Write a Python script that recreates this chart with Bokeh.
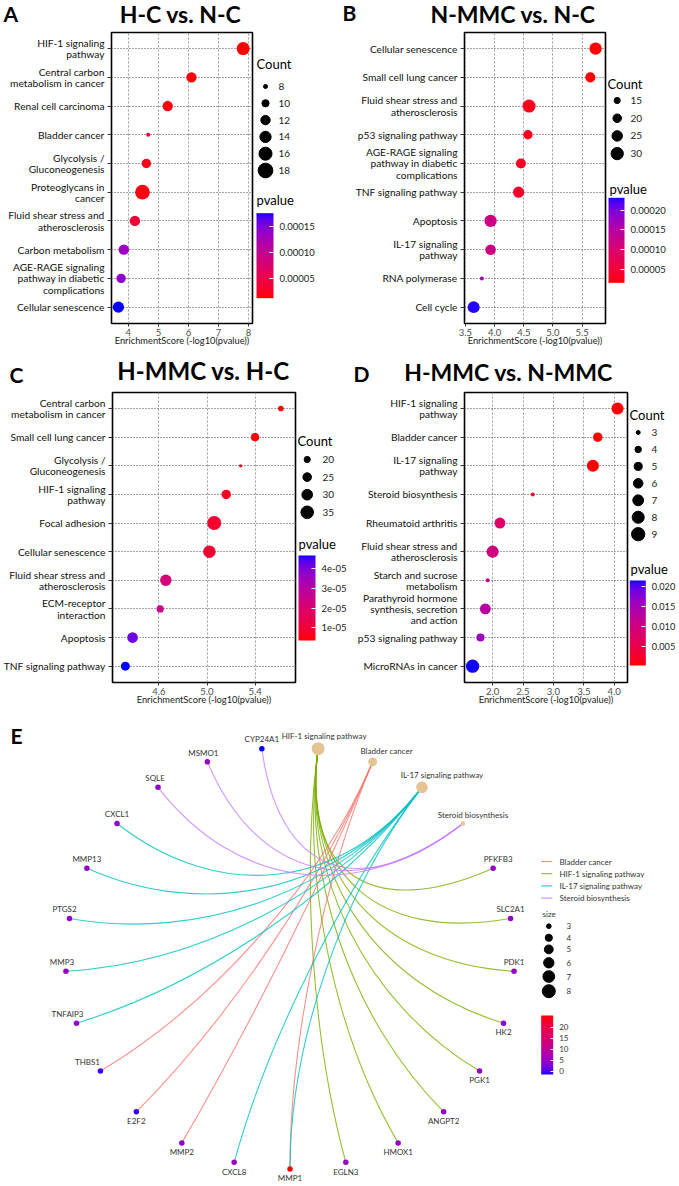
import numpy as np
from bokeh.plotting import figure
from bokeh.layouts import row, column
from bokeh.models import (Range1d, FixedTicker, ColorBar, LinearColorMapper, ColumnDataSource, AllLabels)
from bokeh.transform import transform
from bokeh.core.properties import value
from bokeh.embed import file_html
from bokeh.resources import INLINE

FONT = "Lato"

# ---------------- data ----------------
A_terms = ["HIF-1 signaling\npathway", "Central carbon\nmetabolism in cancer", "Renal cell carcinoma",
           "Bladder cancer", "Glycolysis /\nGluconeogenesis", "Proteoglycans in\ncancer",
           "Fluid shear stress and\natherosclerosis", "Carbon metabolism",
           "AGE-RAGE signaling\npathway in diabetic\ncomplications", "Cellular senescence"]
A_score = [7.82, 6.10, 5.31, 4.66, 4.60, 4.47, 4.22, 3.85, 3.76, 3.67]
A_count = [16, 13, 13, 8, 12, 18, 13, 13, 12, 14]
A_pvalue = [1.3e-5, 1.4e-5, 1.6e-5, 3.2e-5, 2.0e-5, 1.8e-5, 3.6e-5, 1.32e-4, 1.42e-4, 1.75e-4]
A_xticks = [4, 5, 6, 7, 8]
A_xlabels = ["4", "5", "6", "7", "8"]
A_count_breaks = [8, 10, 12, 14, 16, 18]
A_p_ticks = [5e-5, 1e-4, 1.5e-4]
A_p_labels = ["0.00005", "0.00010", "0.00015"]

B_terms = ["Cellular senescence", "Small cell lung cancer", "Fluid shear stress and\natherosclerosis",
           "p53 signaling pathway", "AGE-RAGE signaling\npathway in diabetic\ncomplications",
           "TNF signaling pathway", "Apoptosis", "IL-17 signaling\npathway", "RNA polymerase", "Cell cycle"]
B_score = [5.73, 5.64, 4.59, 4.57, 4.45, 4.41, 3.93, 3.93, 3.78, 3.64]
B_count = [30, 24, 32, 22, 24, 27, 30, 25, 12, 29]
B_pvalue = [1.9e-6, 2.3e-6, 2.6e-5, 2.7e-5, 3.5e-5, 3.9e-5, 1.17e-4, 1.17e-4, 1.66e-4, 2.29e-4]
B_xticks = [3.5, 4.0, 4.5, 5.0, 5.5]
B_xlabels = ["3.5", "4.0", "4.5", "5.0", "5.5"]
B_count_breaks = [15, 20, 25, 30]
B_p_ticks = [5e-5, 1e-4, 1.5e-4, 2e-4]
B_p_labels = ["0.00005", "0.00010", "0.00015", "0.00020"]

C_terms = ["Central carbon\nmetabolism in cancer", "Small cell lung cancer", "Glycolysis /\nGluconeogenesis",
           "HIF-1 signaling\npathway", "Focal adhesion", "Cellular senescence",
           "Fluid shear stress and\natherosclerosis", "ECM-receptor\ninteraction", "Apoptosis",
           "TNF signaling pathway"]
C_score = [5.615, 5.40, 5.28, 5.16, 5.06, 5.02, 4.657, 4.61, 4.38, 4.32]
C_count = [19, 24, 16, 27, 39, 35, 32, 22, 30, 26]
C_pvalue = [2.4e-6, 4.0e-6, 5.2e-6, 6.9e-6, 8.7e-6, 9.5e-6, 2.2e-5, 2.45e-5, 4.17e-5, 4.79e-5]
C_xticks = [4.6, 5.0, 5.4]
C_xlabels = ["4.6", "5.0", "5.4"]
C_count_breaks = [20, 25, 30, 35]
C_p_ticks = [1e-5, 2e-5, 3e-5, 4e-5]
C_p_labels = ["1e-05", "2e-05", "3e-05", "4e-05"]

D_terms = ["HIF-1 signaling\npathway", "Bladder cancer", "IL-17 signaling\npathway", "Steroid biosynthesis",
           "Rheumatoid arthritis", "Fluid shear stress and\natherosclerosis", "Starch and sucrose\nmetabolism",
           "Parathyroid hormone\nsynthesis, secretion\nand action", "p53 signaling pathway",
           "MicroRNAs in cancer"]
D_score = [4.056, 3.73, 3.65, 2.66, 2.12, 2.00, 1.92, 1.88, 1.80, 1.67]
D_count = [8, 6, 8, 3, 7, 8, 3, 7, 5, 9]
D_pvalue = [8.8e-5, 1.9e-4, 2.2e-4, 2.2e-3, 7.6e-3, 1.0e-2, 1.2e-2, 1.32e-2, 1.58e-2, 2.14e-2]
D_xticks = [2.0, 2.5, 3.0, 3.5, 4.0]
D_xlabels = ["2.0", "2.5", "3.0", "3.5", "4.0"]
D_count_breaks = [3, 4, 5, 6, 7, 8, 9]
D_p_ticks = [0.005, 0.010, 0.015, 0.020]
D_p_labels = ["0.005", "0.010", "0.015", "0.020"]

E_categories = ["HIF-1 signaling pathway", "Bladder cancer", "IL-17 signaling pathway", "Steroid biosynthesis"]
E_cat_size = [8, 5, 7, 3]
E_genes = ["PFKFB3", "SLC2A1", "PDK1", "HK2", "PGK1", "ANGPT2", "HMOX1", "EGLN3", "MMP1", "CXCL8",
           "MMP2", "E2F2", "THBS1", "TNFAIP3", "MMP3", "PTGS2", "MMP13", "CXCL1", "SQLE", "MSMO1", "CYP24A1"]
E_gene_fc = [4.6, 4.4, 4.8, 4.2, 4.5, 4.3, 4.7, 4.4, 25.3, 4.9, 4.1, -0.8, -0.6, 4.5, 4.8, 4.6, 4.3, 4.4,
             4.2, 4.5, -1.5]
E_links = {
    "HIF-1 signaling pathway": ["PFKFB3", "SLC2A1", "PDK1", "HK2", "PGK1", "ANGPT2", "HMOX1", "EGLN3"],
    "Bladder cancer": ["MMP1", "MMP2", "E2F2", "THBS1"],
    "IL-17 signaling pathway": ["MMP1", "CXCL8", "TNFAIP3", "MMP3", "PTGS2", "MMP13", "CXCL1"],
    "Steroid biosynthesis": ["SQLE", "MSMO1", "CYP24A1"],
}
E_legend_order = ["Bladder cancer", "HIF-1 signaling pathway", "IL-17 signaling pathway", "Steroid biosynthesis"]
E_size_breaks = [3, 4, 5, 6, 7, 8]
E_fc_ticks = [0, 5, 10, 15, 20]

# ---------------- colour helpers (CIELAB gradient like ggplot) ----------------
_M = np.array([[0.4124564, 0.3575761, 0.1804375], [0.2126729, 0.7151522, 0.0721750],
               [0.0193339, 0.1191920, 0.9503041]])
_W = np.array([0.95047, 1.0, 1.08883])


def _lab(h):
    c = np.array([int(h[i:i + 2], 16) for i in (1, 3, 5)]) / 255.0
    c = np.where(c <= 0.04045, c / 12.92, ((c + 0.055) / 1.055) ** 2.4)
    xyz = _M @ c / _W
    f = np.where(xyz > (6 / 29) ** 3, np.cbrt(xyz), xyz / (3 * (6 / 29) ** 2) + 4 / 29)
    return np.array([116 * f[1] - 16, 500 * (f[0] - f[1]), 200 * (f[1] - f[2])])


def _hex(lab):
    L, a, b = lab
    fy = (L + 16) / 116
    f = np.array([fy + a / 500, fy, fy - b / 200])
    xyz = np.where(f > 6 / 29, f ** 3, 3 * (6 / 29) ** 2 * (f - 4 / 29)) * _W
    lin = np.clip(np.linalg.inv(_M) @ xyz, 0, 1)
    c = np.where(lin <= 0.0031308, 12.92 * lin, 1.055 * lin ** (1 / 2.4) - 0.055)
    return "#%02x%02x%02x" % tuple(int(round(v * 255)) for v in np.clip(c, 0, 1))


def gradient(h0, h1, n=256):
    a, b = _lab(h0), _lab(h1)
    return [_hex(a + (b - a) * t) for t in np.linspace(0, 1, n)]


PV_PAL = gradient("#FF0000", "#0000FF")
FC_PAL = gradient("#0000FF", "#FF0000")


def size_scale(lo, hi, dlo, dhi):
    def f(c):
        r = (c - lo) / (hi - lo)
        return float(dlo + (dhi - dlo) * np.sign(r) * abs(r) ** 0.75)
    return f


def bare_fig(x0, x1, top, height, mbt=0, mbb=0):
    """figure whose data coordinates are page pixels (y grows downwards)"""
    p = figure(width=x1 - x0, height=height, x_range=Range1d(x0, x1),
               y_range=Range1d(top + height - mbb, top + mbt),
               x_axis_location=None, y_axis_location=None, min_border_left=0, min_border_right=0,
               min_border_top=mbt, min_border_bottom=mbb, output_backend="svg", toolbar_location=None)
    p.grid.visible = False
    p.outline_line_color = None
    return p


# ---------------- panels ----------------
def header(top, height, titles, title_x, title_y, title_sizes, letters, letter_x, letter_y):
    p = bare_fig(0, 679, top, height)
    for t, x, y, s in zip(titles, title_x, title_y, title_sizes):
        p.text(x=[x], y=[y], text=[t], text_font=value(FONT), text_font_size=s, text_font_style="bold",
               text_align="center", text_baseline="middle", text_color="black")
    p.text(x=letter_x, y=letter_y, text=letters, text_font=value(FONT), text_font_size="21px",
           text_font_style="bold", text_align="left", text_baseline="middle", text_color="black")
    return p


def dot_panel(terms, score, count, pval, mapper, size_fn, xr, xticks, xlabels, width, height, mbl, mbt, mbb):
    n = len(terms)
    ypos = list(range(n, 0, -1))
    p = figure(width=width, height=height, x_range=Range1d(*xr), y_range=Range1d(0.43, n + 0.56),
               output_backend="svg", toolbar_location=None,
               min_border_left=mbl, min_border_right=2, min_border_top=mbt, min_border_bottom=mbb)
    src = ColumnDataSource(dict(x=score, y=ypos, s=[size_fn(c) for c in count], p=pval))
    p.scatter("x", "y", size="s", source=src, fill_color=transform("p", mapper), line_color=None)

    p.xaxis.ticker = FixedTicker(ticks=xticks)
    p.xaxis.major_label_overrides = {t: l for t, l in zip(xticks, xlabels)}
    p.yaxis.ticker = FixedTicker(ticks=ypos)
    p.yaxis.major_label_overrides = {y: t for y, t in zip(ypos, terms)}

    p.axis.axis_line_color = None
    p.axis.minor_tick_line_color = None
    p.axis.major_tick_line_color = "#333333"
    p.axis.major_tick_in = 0
    p.axis.minor_tick_out = 0
    p.xaxis.major_tick_out = 3
    p.yaxis.major_tick_out = 4
    p.yaxis.major_label_standoff = 3
    p.xaxis.major_label_standoff = 2
    p.yaxis.major_label_text_font = FONT
    p.yaxis.major_label_text_font_size = "10.2px"
    p.yaxis.major_label_text_color = "#111111"
    p.yaxis.major_label_text_line_height = 0.93
    p.xaxis.major_label_text_font = FONT
    p.xaxis.major_label_text_font_size = "9.5px"
    p.xaxis.major_label_text_color = "#4d4d4d"
    p.xaxis.axis_label = "EnrichmentScore (-log10(pvalue))"
    p.xaxis.axis_label_text_font = FONT
    p.xaxis.axis_label_text_font_size = "9.3px"
    p.xaxis.axis_label_text_font_style = "normal"
    p.xaxis.axis_label_text_color = "#1a1a1a"
    p.xaxis.axis_label_standoff = -4

    p.outline_line_color = "black"
    p.outline_line_width = 1.6
    p.xgrid.grid_line_color = "#9a9a9a"
    p.xgrid.grid_line_dash = "2 2"
    p.ygrid.grid_line_color = "#444444"
    p.ygrid.grid_line_dash = "1 2"
    return p


def legend_panel(x0, x1, top, height, mbt, mbb, mapper, size_fn, breaks, cnt_title, dot_x, lab_x, cy0,
                 cdy, pv_title, cb_left, cb_top, cb_w, cb_h, ticks, labels, lab_size):
    p = bare_fig(x0, x1, top, height, mbt, mbb)
    f_bot = top + height - mbb
    ys = [cy0 + i * cdy for i in range(len(breaks))]
    p.text(x=[cnt_title[0]], y=[cnt_title[1]], text=["Count"], text_font=value(FONT),
           text_font_size="13px", text_baseline="middle", text_align="left", text_color="black")
    p.scatter(x=[dot_x] * len(breaks), y=ys, size=[size_fn(b) for b in breaks], color="black")
    p.text(x=[lab_x] * len(breaks), y=ys, text=[str(b) for b in breaks], text_font=value(FONT),
           text_font_size="10px", text_baseline="middle", text_align="left", text_color="#222222")
    p.text(x=[pv_title[0]], y=[pv_title[1]], text=["pvalue"], text_font=value(FONT),
           text_font_size="13px", text_baseline="middle", text_align="left", text_color="black")
    cb = ColorBar(color_mapper=mapper, location=(cb_left - x0, f_bot - (cb_top + cb_h)),
                  width=int(round(cb_w)), height=int(round(cb_h)), ticker=FixedTicker(ticks=ticks),
                  major_label_overrides={t: l for t, l in zip(ticks, labels)},
                  major_label_policy=AllLabels(),
                  padding=0, margin=0, label_standoff=6, major_label_text_font=FONT,
                  major_label_text_font_size=lab_size, major_label_text_color="#222222",
                  major_tick_line_color="white", major_tick_in=4, major_tick_out=0,
                  bar_line_color=None, border_line_color=None, background_fill_color=None)
    p.add_layout(cb)
    return p


mapA = LinearColorMapper(palette=PV_PAL, low=1.2e-5, high=1.75e-4)
mapB = LinearColorMapper(palette=PV_PAL, low=1.52e-5, high=2.32e-4)
mapC = LinearColorMapper(palette=PV_PAL, low=3.6e-6, high=4.68e-5)
mapD = LinearColorMapper(palette=PV_PAL, low=1.0e-4, high=2.15e-2)
sA = size_scale(8, 18, 4.0, 14.7)
sB = size_scale(12, 32, 4.0, 13.0)
sC = size_scale(16, 39, 3.3, 14.0)
sD = size_scale(3, 9, 4.0, 13.3)

# page layout: header strip, then the two dot-plot rows, then the network
HD1_T, HD1_H = 0, 31
T1, H1, MBT1, MBB1 = 31, 324, 1, 32
HD2_T, HD2_H = 355, 35
T2, H2, MBT2, MBB2 = 390, 322, 2, 30

hd1 = header(HD1_T, HD1_H, ["H-C vs. N-C", "N-MMC vs. N-C"], [180, 512.5], [13.8, 13.8], ["23px", "23px"],
             ["A", "B"], [3, 342], [12.8, 12.2])
pA = dot_panel(A_terms, A_score, A_count, A_pvalue, mapA, sA, (3.44, 8.13), A_xticks, A_xlabels,
               254, H1, 111, MBT1, MBB1)
lA = legend_panel(254, 340, T1, H1, MBT1, MBB1, mapA, sA, A_count_breaks, (256, 63), 265, 278, 86, 16.8,
                  (256, 199), 256, 212.7, 17, 85, A_p_ticks, A_p_labels, "9.5px")
pB = dot_panel(B_terms, B_score, B_count, B_pvalue, mapB, sB, (3.483, 5.9), B_xticks, B_xlabels,
               267, H1, 124, MBT1, MBB1)
lB = legend_panel(607, 679, T1, H1, MBT1, MBB1, mapB, sB, B_count_breaks, (607, 83), 616.7, 630, 100, 17.7,
                  (609, 188), 608, 197.3, 16, 85, B_p_ticks, B_p_labels, "9.5px")

hd2 = header(HD2_T, HD2_H, ["H-MMC vs. H-C", "H-MMC vs. N-MMC"], [203, 508], [370, 371], ["24px", "23px"],
             ["C", "D"], [9, 353], [374, 372.5])
pC = dot_panel(C_terms, C_score, C_count, C_pvalue, mapC, sC, (4.213, 5.737), C_xticks, C_xlabels,
               297, H2, 111, MBT2, MBB2)
lC = legend_panel(297, 352, T2, H2, MBT2, MBB2, mapC, sC, C_count_breaks, (297, 440), 306.7, 322, 459, 17.6,
                  (298, 543), 298, 555, 17, 85, C_p_ticks, C_p_labels, "9.5px")
pD = dot_panel(D_terms, D_score, D_count, D_pvalue, mapD, sD, (1.537, 4.22), D_xticks, D_xlabels,
               277, H2, 112, MBT2, MBB2)
lD = legend_panel(629, 679, T2, H2, MBT2, MBB2, mapD, sD, D_count_breaks, (629, 414), 637.7, 651, 432, 16.95,
                  (630, 568.7), 629.3, 580, 16, 85, D_p_ticks, D_p_labels, "9.2px")

# ---------------- panel E: gene-concept network ----------------
EX0, EX1, EY0, EY1 = 0, 679, 712, 1186
CX, CY, RX, RY = 289.5, 957.5, 224.5, 211.0
STRENGTH = 0.6
HUES = {"Bladder cancer": "#F8766D", "HIF-1 signaling pathway": "#7CAE00",
        "IL-17 signaling pathway": "#00BFC4", "Steroid biosynthesis": "#C77CFF"}
LABEL_NUDGE = {"HIF-1 signaling pathway": 6, "Bladder cancer": 14, "IL-17 signaling pathway": 20,
               "Steroid biosynthesis": 10, "THBS1": -13, "TNFAIP3": -9, "PFKFB3": 5, "MMP3": -4, "PTGS2": -5,
               "MSMO1": -4, "SQLE": -3}

pE = bare_fig(EX0, EX1, EY0, EY1 - EY0)

nodes = E_categories + E_genes
N = len(nodes)
theta = np.deg2rad(180.0 / N + 360.0 / N * np.arange(N))
nx = CX + RX * np.sin(theta)
ny = CY - RY * np.cos(theta)
pos = {nm: (nx[i], ny[i], np.rad2deg(theta[i])) for i, nm in enumerate(nodes)}

ed = dict(x0=[], y0=[], x1=[], y1=[], cx0=[], cy0=[], cx1=[], cy1=[], col=[])
for cat in E_categories:
    for g in E_links[cat]:
        ax_, ay_, _ = pos[cat]
        bx_, by_, _ = pos[g]
        ed["x0"].append(ax_); ed["y0"].append(ay_)
        ed["x1"].append(bx_); ed["y1"].append(by_)
        ed["cx0"].append(ax_ + STRENGTH * (CX - ax_)); ed["cy0"].append(ay_ + STRENGTH * (CY - ay_))
        ed["cx1"].append(bx_ + STRENGTH * (CX - bx_)); ed["cy1"].append(by_ + STRENGTH * (CY - by_))
        ed["col"].append(HUES[cat])
pE.bezier(x0="x0", y0="y0", x1="x1", y1="y1", cx0="cx0", cy0="cy0", cx1="cx1", cy1="cy1",
          line_color="col", line_alpha=0.8, line_width=1.1, source=ColumnDataSource(ed))

size_net = size_scale(3, 8, 4.7, 13.0)
cat_src = ColumnDataSource(dict(x=[pos[c][0] for c in E_categories], y=[pos[c][1] for c in E_categories],
                                s=[size_net(v) for v in E_cat_size]))
pE.scatter("x", "y", size="s", source=cat_src, fill_color="#E5C494", line_color=None)
mapE = LinearColorMapper(palette=FC_PAL, low=-1.5, high=25.3)
gene_src = ColumnDataSource(dict(x=[pos[g][0] for g in E_genes], y=[pos[g][1] for g in E_genes],
                                 fc=E_gene_fc))
pE.scatter("x", "y", size=5.5, source=gene_src, fill_color=transform("fc", mapE), line_color=None)

# node labels
lab_up = dict(x=[], y=[], t=[])
lab_dn = dict(x=[], y=[], t=[])
for i, nm in enumerate(nodes):
    x_, y_, ang = pos[nm]
    x_ = x_ + LABEL_NUDGE.get(nm, 0)
    r = (size_net(E_cat_size[i]) if i < len(E_categories) else 5.5) / 2
    if 100 < ang < 230:
        lab_dn["x"].append(x_); lab_dn["y"].append(y_ + r + 1.5); lab_dn["t"].append(nm)
    else:
        lab_up["x"].append(x_); lab_up["y"].append(y_ - r - 1.5); lab_up["t"].append(nm)
pE.text("x", "y", text="t", source=ColumnDataSource(lab_up), text_font=value(FONT), text_font_size="8px",
        text_align="center", text_baseline="bottom", text_color="#333333")
pE.text("x", "y", text="t", source=ColumnDataSource(lab_dn), text_font=value(FONT), text_font_size="8px",
        text_align="center", text_baseline="top", text_color="#333333")

pE.text(x=[10], y=[735], text=["E"], text_font=value(FONT), text_font_size="21px", text_font_style="bold",
        text_baseline="middle", text_color="black")

# edge legend
leg_y = [861 + i * 12.2 for i in range(len(E_legend_order))]
pE.segment(x0=[540.7] * 4, x1=[551.7] * 4, y0=leg_y, y1=leg_y, line_color=[HUES[c] for c in E_legend_order],
           line_alpha=0.8, line_width=1.2)
pE.text(x=[559] * 4, y=leg_y, text=E_legend_order, text_font=value(FONT), text_font_size="8px",
        text_baseline="middle", text_color="#333333")
# size legend
pE.text(x=[542], y=[913], text=["size"], text_font=value(FONT), text_font_size="8px",
        text_baseline="middle", text_color="#333333")
sz_y = [925.7, 937.3, 948.9, 962.3, 976, 990.7]
pE.scatter(x=[548.3] * len(E_size_breaks), y=sz_y, size=[size_net(v) for v in E_size_breaks], color="black")
pE.text(x=[566] * len(E_size_breaks), y=sz_y, text=[str(v) for v in E_size_breaks], text_font=value(FONT),
        text_font_size="8px", text_baseline="middle", text_color="#333333")
cbE = ColorBar(color_mapper=mapE, location=(540.7 - EX0, EY1 - 1074), width=12, height=59,
               ticker=FixedTicker(ticks=E_fc_ticks), major_label_policy=AllLabels(),
               padding=0, margin=0, label_standoff=6,
               major_label_text_font=FONT, major_label_text_font_size="8px", major_label_text_color="#333333",
               major_tick_line_color="white", major_tick_in=3, major_tick_out=0,
               bar_line_color=None, border_line_color=None, background_fill_color=None)
pE.add_layout(cbE)

layout = column(hd1, row(pA, lA, pB, lB), hd2, row(pC, lC, pD, lD), pE)
open("out.html", "w").write(file_html(layout, INLINE))
